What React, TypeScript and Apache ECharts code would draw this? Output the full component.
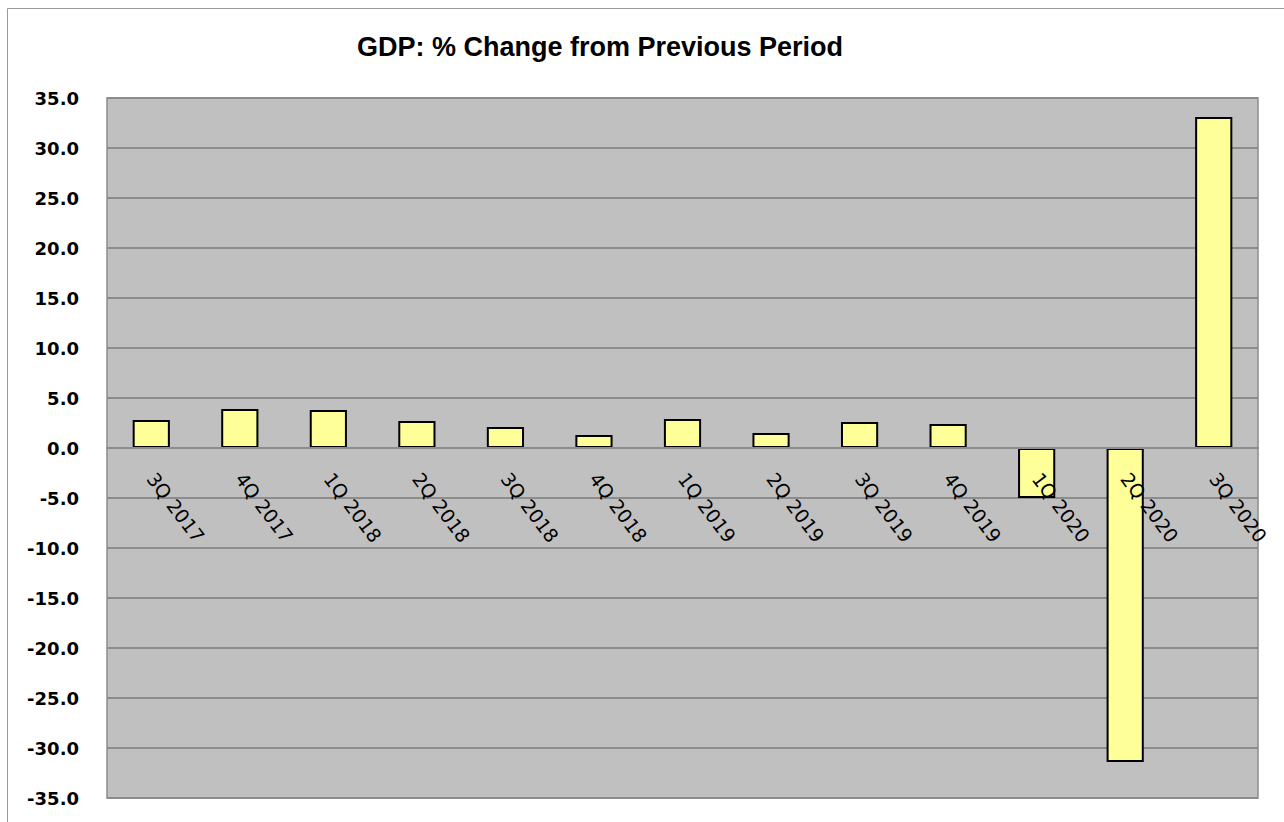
import React, { useEffect, useRef } from "react";
import * as echarts from "echarts";

const TITLE = "GDP: % Change from Previous Period";
const categories = [
  "3Q 2017", "4Q 2017", "1Q 2018", "2Q 2018", "3Q 2018", "4Q 2018",
  "1Q 2019", "2Q 2019", "3Q 2019", "4Q 2019", "1Q 2020", "2Q 2020", "3Q 2020",
];
const gdpChange = [2.8, 3.9, 3.8, 2.7, 2.1, 1.3, 2.9, 1.5, 2.6, 2.4, -5.0, -31.4, 33.1];
const yMin = -35;
const yMax = 35;
const yStep = 5;

const GRID_TOP = 98;
const GRID_BOTTOM = 24;
const HEIGHT = 822;

export default function App() {
  const ref = useRef<HTMLDivElement>(null);
  useEffect(() => {
    if (!ref.current) return;
    const chart = echarts.init(ref.current, null, { renderer: "svg" });
    const plotH = HEIGHT - GRID_TOP - GRID_BOTTOM;
    const zeroFromBottom = (plotH * (0 - yMin)) / (yMax - yMin);
    chart.setOption({
      animation: false,
      backgroundColor: "#ffffff",
      title: {
        text: TITLE,
        left: 352,
        top: 28,
        textStyle: {
          fontFamily: "Liberation Sans, Arial, sans-serif",
          fontWeight: "bold",
          fontSize: 27,
          color: "#000",
        },
      },
      graphic: [
        {
          type: "rect",
          shape: { x: 7.5, y: 8.5, width: 1400, height: 900 },
          style: { fill: "none", stroke: "#9a9a9a", lineWidth: 1 },
          silent: true,
          z: -1,
        },
      ],
      grid: {
        left: 107,
        top: GRID_TOP,
        right: 26,
        bottom: GRID_BOTTOM,
        containLabel: false,
        outerBoundsMode: "none",
        show: true,
        backgroundColor: "#c0c0c0",
        borderColor: "#8c8c8c",
        borderWidth: 1.5,
      },
      xAxis: {
        type: "category",
        data: categories,
        offset: -zeroFromBottom,
        z: 10,
        axisLine: { show: true, onZero: false, lineStyle: { color: "#8c8c8c", width: 2 } },
        axisTick: { show: false },
        axisLabel: {
          rotate: -53,
          margin: 27,
          interval: 0,
          fontFamily: "DejaVu Sans, Verdana, sans-serif",
          fontSize: 19,
          color: "#000",
        },
      },
      yAxis: {
        type: "value",
        min: yMin,
        max: yMax,
        interval: yStep,
        axisLine: { show: false },
        axisTick: { show: false },
        splitLine: { show: true, lineStyle: { color: "#8c8c8c", width: 2 } },
        axisLabel: {
          margin: 28,
          formatter: (v: number) => v.toFixed(1),
          fontFamily: "DejaVu Sans, Verdana, sans-serif",
          fontWeight: "bold",
          fontSize: 18,
          color: "#000",
        },
      },
      series: [
        {
          type: "bar",
          data: gdpChange,
          barWidth: "42%",
          itemStyle: { color: "#ffff99", borderColor: "#000", borderWidth: 2 },
          z: 2,
        },
      ],
    });
    return () => chart.dispose();
  }, []);
  return (
    <div
      ref={ref}
      style={{ position: "fixed", left: 0, top: 0, width: 1284, height: 822 }}
    />
  );
}
